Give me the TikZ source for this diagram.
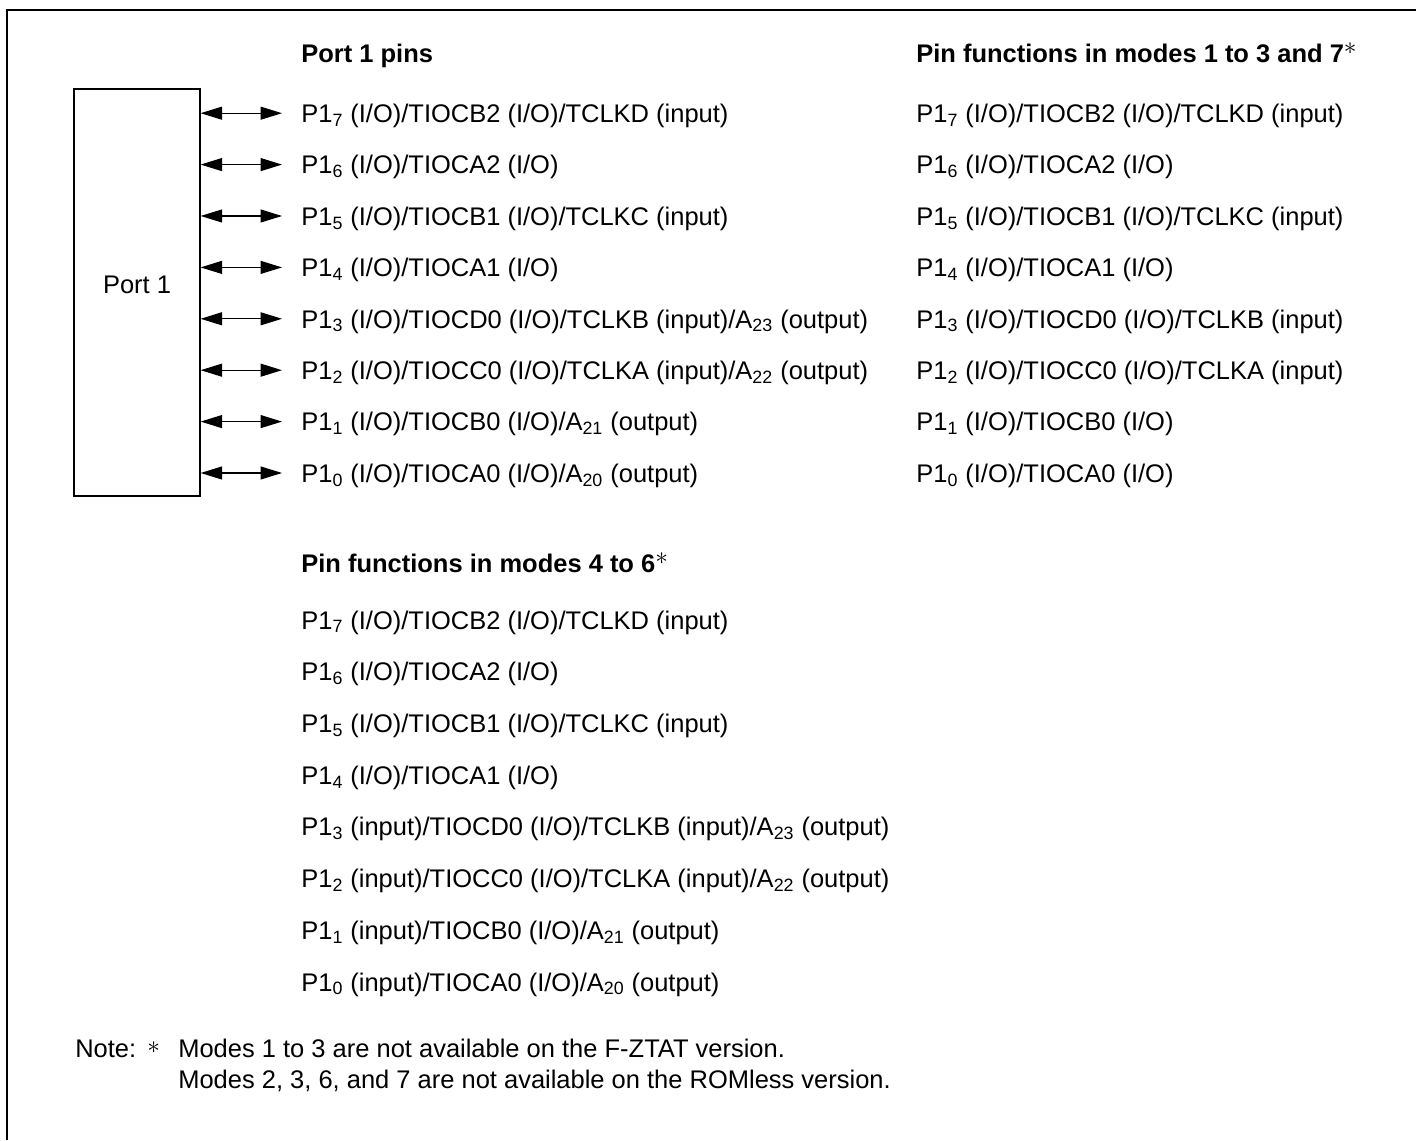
\documentclass[tikz,border=0pt]{standalone}
\usepackage{fontspec}
\setmainfont{Liberation Sans}
\usepackage{tikz}
\usetikzlibrary{positioning,arrows.meta}
\newcommand{\pn}[1]{P1\textsubscript{#1}}
\newcommand{\an}[1]{A\textsubscript{#1}}
\newcommand{\astx}{\raisebox{0.29em}{$\ast$}}

\begin{document}
\begin{tikzpicture}[
  font=\fontsize{14.5}{17}\selectfont,
  pinx/.style={anchor=west, inner sep=0pt, text height=0.72em, text depth=0pt, yshift=-0.06cm},
  headx/.style={pinx, font=\fontsize{14.5}{17}\selectfont\bfseries},
  portbox/.style={draw, line width=0.7pt, minimum width=2.52cm, minimum height=8.14cm, inner sep=0pt},
  bidir/.style={{Triangle[length=4.3mm, width=2.6mm]}-{Triangle[length=4.3mm, width=2.6mm]}, line width=0.65pt, shorten >=3.8mm}]
\useasboundingbox (0,0) rectangle (28.32,22.8);
% frame
\draw[line width=0.6pt] (0.14,0) -- (0.14,22.6) -- (28.32,22.6);
% port block
\node[portbox] (port) at (2.74,16.95) {};
\node (plabel) at (2.74,17.1) {Port 1};
% port 1 pins
\node[headx] (hl) at (6.02,21.744) {Port 1 pins};
\node[pinx] (l7) at (6.02,20.536) {\pn{7} (I/O)/TIOCB2 (I/O)/TCLKD (input)};
\node[pinx] (l6) at (6.02,19.508) {\pn{6} (I/O)/TIOCA2 (I/O)};
\node[pinx] (l5) at (6.02,18.480) {\pn{5} (I/O)/TIOCB1 (I/O)/TCLKC (input)};
\node[pinx] (l4) at (6.02,17.452) {\pn{4} (I/O)/TIOCA1 (I/O)};
\node[pinx] (l3) at (6.02,16.424) {\pn{3} (I/O)/TIOCD0 (I/O)/TCLKB (input)/\an{23} (output)};
\node[pinx] (l2) at (6.02,15.396) {\pn{2} (I/O)/TIOCC0 (I/O)/TCLKA (input)/\an{22} (output)};
\node[pinx] (l1) at (6.02,14.368) {\pn{1} (I/O)/TIOCB0 (I/O)/\an{21} (output)};
\node[pinx] (l0) at (6.02,13.340) {\pn{0} (I/O)/TIOCA0 (I/O)/\an{20} (output)};
\foreach \k in {0,...,7}
  \draw[bidir] (port.east |- l\k.west) ++(0,0.06) coordinate (s\k) -- (s\k -| l\k.west);
% modes 1 to 3 and 7
\node[headx] (hr) at (18.32,21.744) {Pin functions in modes 1 to 3 and 7\astx};
\node[pinx] (r7) at (18.32,20.536) {\pn{7} (I/O)/TIOCB2 (I/O)/TCLKD (input)};
\node[pinx] (r6) at (18.32,19.508) {\pn{6} (I/O)/TIOCA2 (I/O)};
\node[pinx] (r5) at (18.32,18.480) {\pn{5} (I/O)/TIOCB1 (I/O)/TCLKC (input)};
\node[pinx] (r4) at (18.32,17.452) {\pn{4} (I/O)/TIOCA1 (I/O)};
\node[pinx] (r3) at (18.32,16.424) {\pn{3} (I/O)/TIOCD0 (I/O)/TCLKB (input)};
\node[pinx] (r2) at (18.32,15.396) {\pn{2} (I/O)/TIOCC0 (I/O)/TCLKA (input)};
\node[pinx] (r1) at (18.32,14.368) {\pn{1} (I/O)/TIOCB0 (I/O)};
\node[pinx] (r0) at (18.32,13.340) {\pn{0} (I/O)/TIOCA0 (I/O)};
% modes 4 to 6
\node[headx] (hm) at (6.02,11.544) {Pin functions in modes 4 to 6\astx};
\node[pinx] (m7) at (6.02,10.404) {\pn{7} (I/O)/TIOCB2 (I/O)/TCLKD (input)};
\node[pinx] (m6) at (6.02,9.370) {\pn{6} (I/O)/TIOCA2 (I/O)};
\node[pinx] (m5) at (6.02,8.336) {\pn{5} (I/O)/TIOCB1 (I/O)/TCLKC (input)};
\node[pinx] (m4) at (6.02,7.302) {\pn{4} (I/O)/TIOCA1 (I/O)};
\node[pinx] (m3) at (6.02,6.268) {\pn{3} (input)/TIOCD0 (I/O)/TCLKB (input)/\an{23} (output)};
\node[pinx] (m2) at (6.02,5.234) {\pn{2} (input)/TIOCC0 (I/O)/TCLKA (input)/\an{22} (output)};
\node[pinx] (m1) at (6.02,4.200) {\pn{1} (input)/TIOCB0 (I/O)/\an{21} (output)};
\node[pinx] (m0) at (6.02,3.166) {\pn{0} (input)/TIOCA0 (I/O)/\an{20} (output)};
% note
\node[pinx] (nt) at (1.5,1.84) {Note:};
\node[pinx] (ns) at (2.94,1.84) {\raisebox{0.15em}{$\ast$}};
\node[pinx] (n1) at (3.56,1.84) {Modes 1 to 3 are not available on the F-ZTAT version.};
\node[pinx] (n2) at (3.56,1.22) {Modes 2, 3, 6, and 7 are not available on the ROMless version.};
\end{tikzpicture}
\end{document}
